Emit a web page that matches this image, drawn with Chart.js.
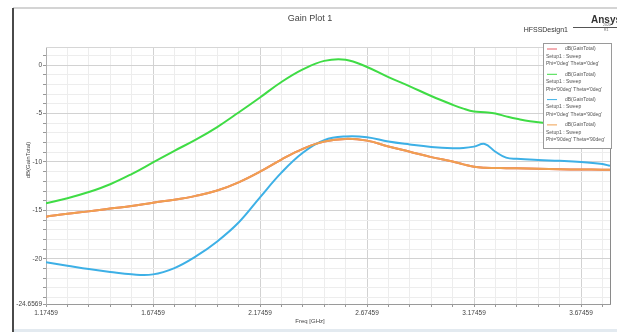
<!DOCTYPE html>
<html>
<head>
<meta charset="utf-8">
<script src="https://cdn.jsdelivr.net/npm/chart.js@4/dist/chart.umd.min.js"></script>
<style>
  body { margin: 0; background: #fff; }
  #gainChart { display: block; }
</style>
</head>
<body>
<canvas id="gainChart" width="617" height="332"></canvas>
<script>
// frequency points (GHz)
const freqGHz = [1.17459, 1.27459, 1.37459, 1.47459, 1.57459, 1.67459, 1.77459, 1.87459, 1.97459, 2.07459,
  2.17459, 2.27459, 2.37459, 2.47459, 2.57459, 2.67459, 2.77459, 2.87459, 2.97459, 3.07459,
  3.12459, 3.17459, 3.22459, 3.27459, 3.32459, 3.37459, 3.47459, 3.57459, 3.67459, 3.77459, 3.81];

// dB(GainTotal) for each cut
const gainPhi0Theta0 = [-15.65, -15.35, -15.1, -14.8, -14.55, -14.2, -13.9, -13.5, -12.95, -12.1,
  -11.0, -9.75, -8.65, -7.9, -7.62, -7.8, -8.4, -8.95, -9.5, -9.95,
  -10.25, -10.5, -10.6, -10.62, -10.64, -10.65, -10.7, -10.75, -10.78, -10.8, -10.8];
const gainPhi90Theta0 = [-14.26, -13.74, -13.1, -12.3, -11.25, -10.05, -8.85, -7.7, -6.4, -4.9,
  -3.35, -1.75, -0.45, 0.43, 0.55, -0.2, -1.25, -2.2, -3.2, -4.1,
  -4.5, -4.8, -4.88, -5.0, -5.3, -5.55, -5.9, -6.05, -6.15, -6.25, -6.3];
const gainPhi0Theta90 = [-20.35, -20.7, -21.05, -21.35, -21.6, -21.6, -20.95, -19.75, -18.2, -16.25,
  -13.65, -11.1, -9.05, -7.75, -7.37, -7.45, -7.9, -8.2, -8.45, -8.58,
  -8.56, -8.42, -8.15, -8.95, -9.55, -9.68, -9.8, -9.88, -10.0, -10.22, -10.4];
const gainPhi90Theta90 = [-15.65, -15.35, -15.1, -14.8, -14.55, -14.2, -13.9, -13.5, -12.95, -12.1,
  -11.0, -9.75, -8.65, -7.9, -7.62, -7.8, -8.4, -8.95, -9.5, -9.95,
  -10.25, -10.5, -10.6, -10.62, -10.64, -10.65, -10.7, -10.75, -10.78, -10.8, -10.8];

const seriesNames = ["Phi='0deg' Theta='0deg'", "Phi='90deg' Theta='0deg'",
  "Phi='0deg' Theta='90deg'", "Phi='90deg' Theta='90deg'"];

// axis tick labels
const xTickLabels = ['1.17459', '1.67459', '2.17459', '2.67459', '3.17459', '3.67459'];
const yTickValues = [0, -5, -10, -15, -20];
const yTickLabels = ['0', '-5', '-10', '-15', '-20'];
const xMin = 1.17459, xMax = 3.81;
const yMin = -24.6569, yMax = 1.86;
const yMinLabel = '-24.6569';

const FONT = "'Liberation Sans', Arial, sans-serif";

function toPoints(vals) {
  return vals.map((v, i) => ({ x: freqGHz[i], y: v }));
}

function lineSet(label, vals, color, order) {
  return {
    label: label,
    data: toPoints(vals),
    borderColor: color,
    backgroundColor: color,
    borderWidth: 2,
    pointRadius: 0,
    tension: 0.4,
    fill: false,
    order: order
  };
}

// frame, titles and the HFSS style legend box
const hfssDecor = {
  id: 'hfssDecor',
  beforeDraw(chart) {
    const c = chart.ctx;
    c.save();
    c.fillStyle = '#fff';
    c.fillRect(0, 0, chart.width, chart.height);
    c.restore();
  },
  afterDraw(chart) {
    const c = chart.ctx;
    const a = chart.chartArea;
    c.save();

    // plot border top / right
    c.strokeStyle = '#d6d6d6';
    c.lineWidth = 1;
    c.beginPath();
    c.moveTo(a.left, a.top + 0.5);
    c.lineTo(a.right, a.top + 0.5);
    c.stroke();
    c.strokeStyle = '#8a8a8a';
    c.beginPath();
    c.moveTo(a.right + 0.5, a.top);
    c.lineTo(a.right + 0.5, a.bottom);
    c.stroke();

    // titles
    c.fillStyle = '#444';
    c.textAlign = 'center';
    c.textBaseline = 'middle';
    c.font = '9px ' + FONT;
    c.fillText('Gain Plot 1', 310, 19);
    c.font = '6px ' + FONT;
    c.fillText('Freq [GHz]', 310, 321);
    c.save();
    c.translate(28, 160);
    c.rotate(-Math.PI / 2);
    c.fillText('dB(GainTotal)', 0, 0);
    c.restore();

    c.textAlign = 'right';
    c.font = '7px ' + FONT;
    c.fillStyle = '#333';
    c.fillText('HFSSDesign1', 568, 30);

    // Ansys mark
    c.textAlign = 'left';
    c.font = 'bold 10px ' + FONT;
    c.fillStyle = '#333';
    c.fillText('Ansys', 591, 20);
    c.strokeStyle = '#555';
    c.beginPath();
    c.moveTo(573, 27.5);
    c.lineTo(617, 27.5);
    c.stroke();
    c.font = '3.5px ' + FONT;
    c.fillStyle = '#666';
    c.fillText('2020', 603, 25);
    c.fillText('R1', 604, 30.5);

    // legend box
    const lx = 543, ly = 43, lw = 68, lh = 105;
    c.fillStyle = '#fff';
    c.fillRect(lx, ly, lw, lh);
    c.strokeStyle = '#9a9a9a';
    c.strokeRect(lx + 0.5, ly + 0.5, lw, lh);
    c.font = '5px ' + FONT;
    c.textBaseline = 'middle';
    chart.data.datasets.forEach((ds, i) => {
      const y0 = ly + 6 + i * 25.3;
      c.strokeStyle = ds.borderColor;
      c.lineWidth = 1;
      c.beginPath();
      c.moveTo(lx + 4, y0);
      c.lineTo(lx + 14, y0);
      c.stroke();
      c.fillStyle = '#555';
      c.textAlign = 'left';
      c.fillText('dB(GainTotal)', lx + 22, y0);
      c.fillText('Setup1 : Sweep', lx + 3, y0 + 7.5);
      c.fillText(ds.label, lx + 3, y0 + 15);
    });

    // window frame
    c.fillStyle = '#fff';
    c.fillRect(0, 0, 13, chart.height);
    c.fillStyle = '#d4d4d4';
    c.fillRect(13, 7, chart.width - 13, 2);
    c.fillStyle = '#4a4a4a';
    c.fillRect(12, 8, 2, chart.height - 8);
    c.fillStyle = '#e3eaf0';
    c.fillRect(14, 329, chart.width - 14, 3);
    c.restore();
  }
};

const ctx = document.getElementById('gainChart').getContext('2d');
const gainChart = new Chart(ctx, {
  type: 'line',
  data: {
    datasets: [
      lineSet(seriesNames[0], gainPhi0Theta0, '#e8606a', 4),
      lineSet(seriesNames[1], gainPhi90Theta0, '#3fdc45', 3),
      lineSet(seriesNames[2], gainPhi0Theta90, '#3db0e6', 2),
      lineSet(seriesNames[3], gainPhi90Theta90, '#f0a050', 1)
    ]
  },
  options: {
    responsive: false,
    animation: false,
    devicePixelRatio: 1,
    layout: { padding: { top: 47, right: 7, left: 0, bottom: 0 } },
    plugins: {
      legend: { display: false },
      title: { display: false },
      tooltip: { enabled: false }
    },
    scales: {
      x: {
        type: 'linear',
        min: xMin,
        max: xMax,
        afterFit(scale) { scale.height = 28; },
        afterBuildTicks(scale) {
          const t = [];
          for (let k = 0; k <= 26; k++) t.push({ value: xMin + k * 0.1 });
          scale.ticks = t;
        },
        ticks: {
          autoSkip: false,
          maxRotation: 0,
          padding: 2,
          color: '#444',
          font: { family: FONT, size: 6.5 },
          callback: (v, i) => (i % 5 === 0 ? xTickLabels[i / 5] : '')
        },
        grid: {
          color: (c) => (c.index % 5 === 0 ? '#d2d2d2' : '#ededed'),
          tickColor: '#999',
          tickLength: 3,
          lineWidth: 1
        },
        border: { color: '#9a9a9a' }
      },
      y: {
        type: 'linear',
        min: yMin,
        max: yMax,
        afterFit(scale) { scale.width = 46; },
        afterBuildTicks(scale) {
          const t = [{ value: yMin }];
          for (let v = -24; v <= 1; v++) t.push({ value: v });
          scale.ticks = t;
        },
        ticks: {
          autoSkip: false,
          padding: 1,
          color: '#444',
          font: { family: FONT, size: 6.5 },
          callback: (v) => {
            if (v === yMin) return yMinLabel;
            const j = yTickValues.indexOf(v);
            return j >= 0 ? yTickLabels[j] : '';
          }
        },
        grid: {
          color: (c) => (c.tick && yTickValues.indexOf(c.tick.value) >= 0 ? '#d2d2d2' : '#ededed'),
          tickColor: '#999',
          tickLength: 3
        },
        border: { color: '#b0b0b0' }
      }
    }
  },
  plugins: [hfssDecor]
});
</script>
</body>
</html>
